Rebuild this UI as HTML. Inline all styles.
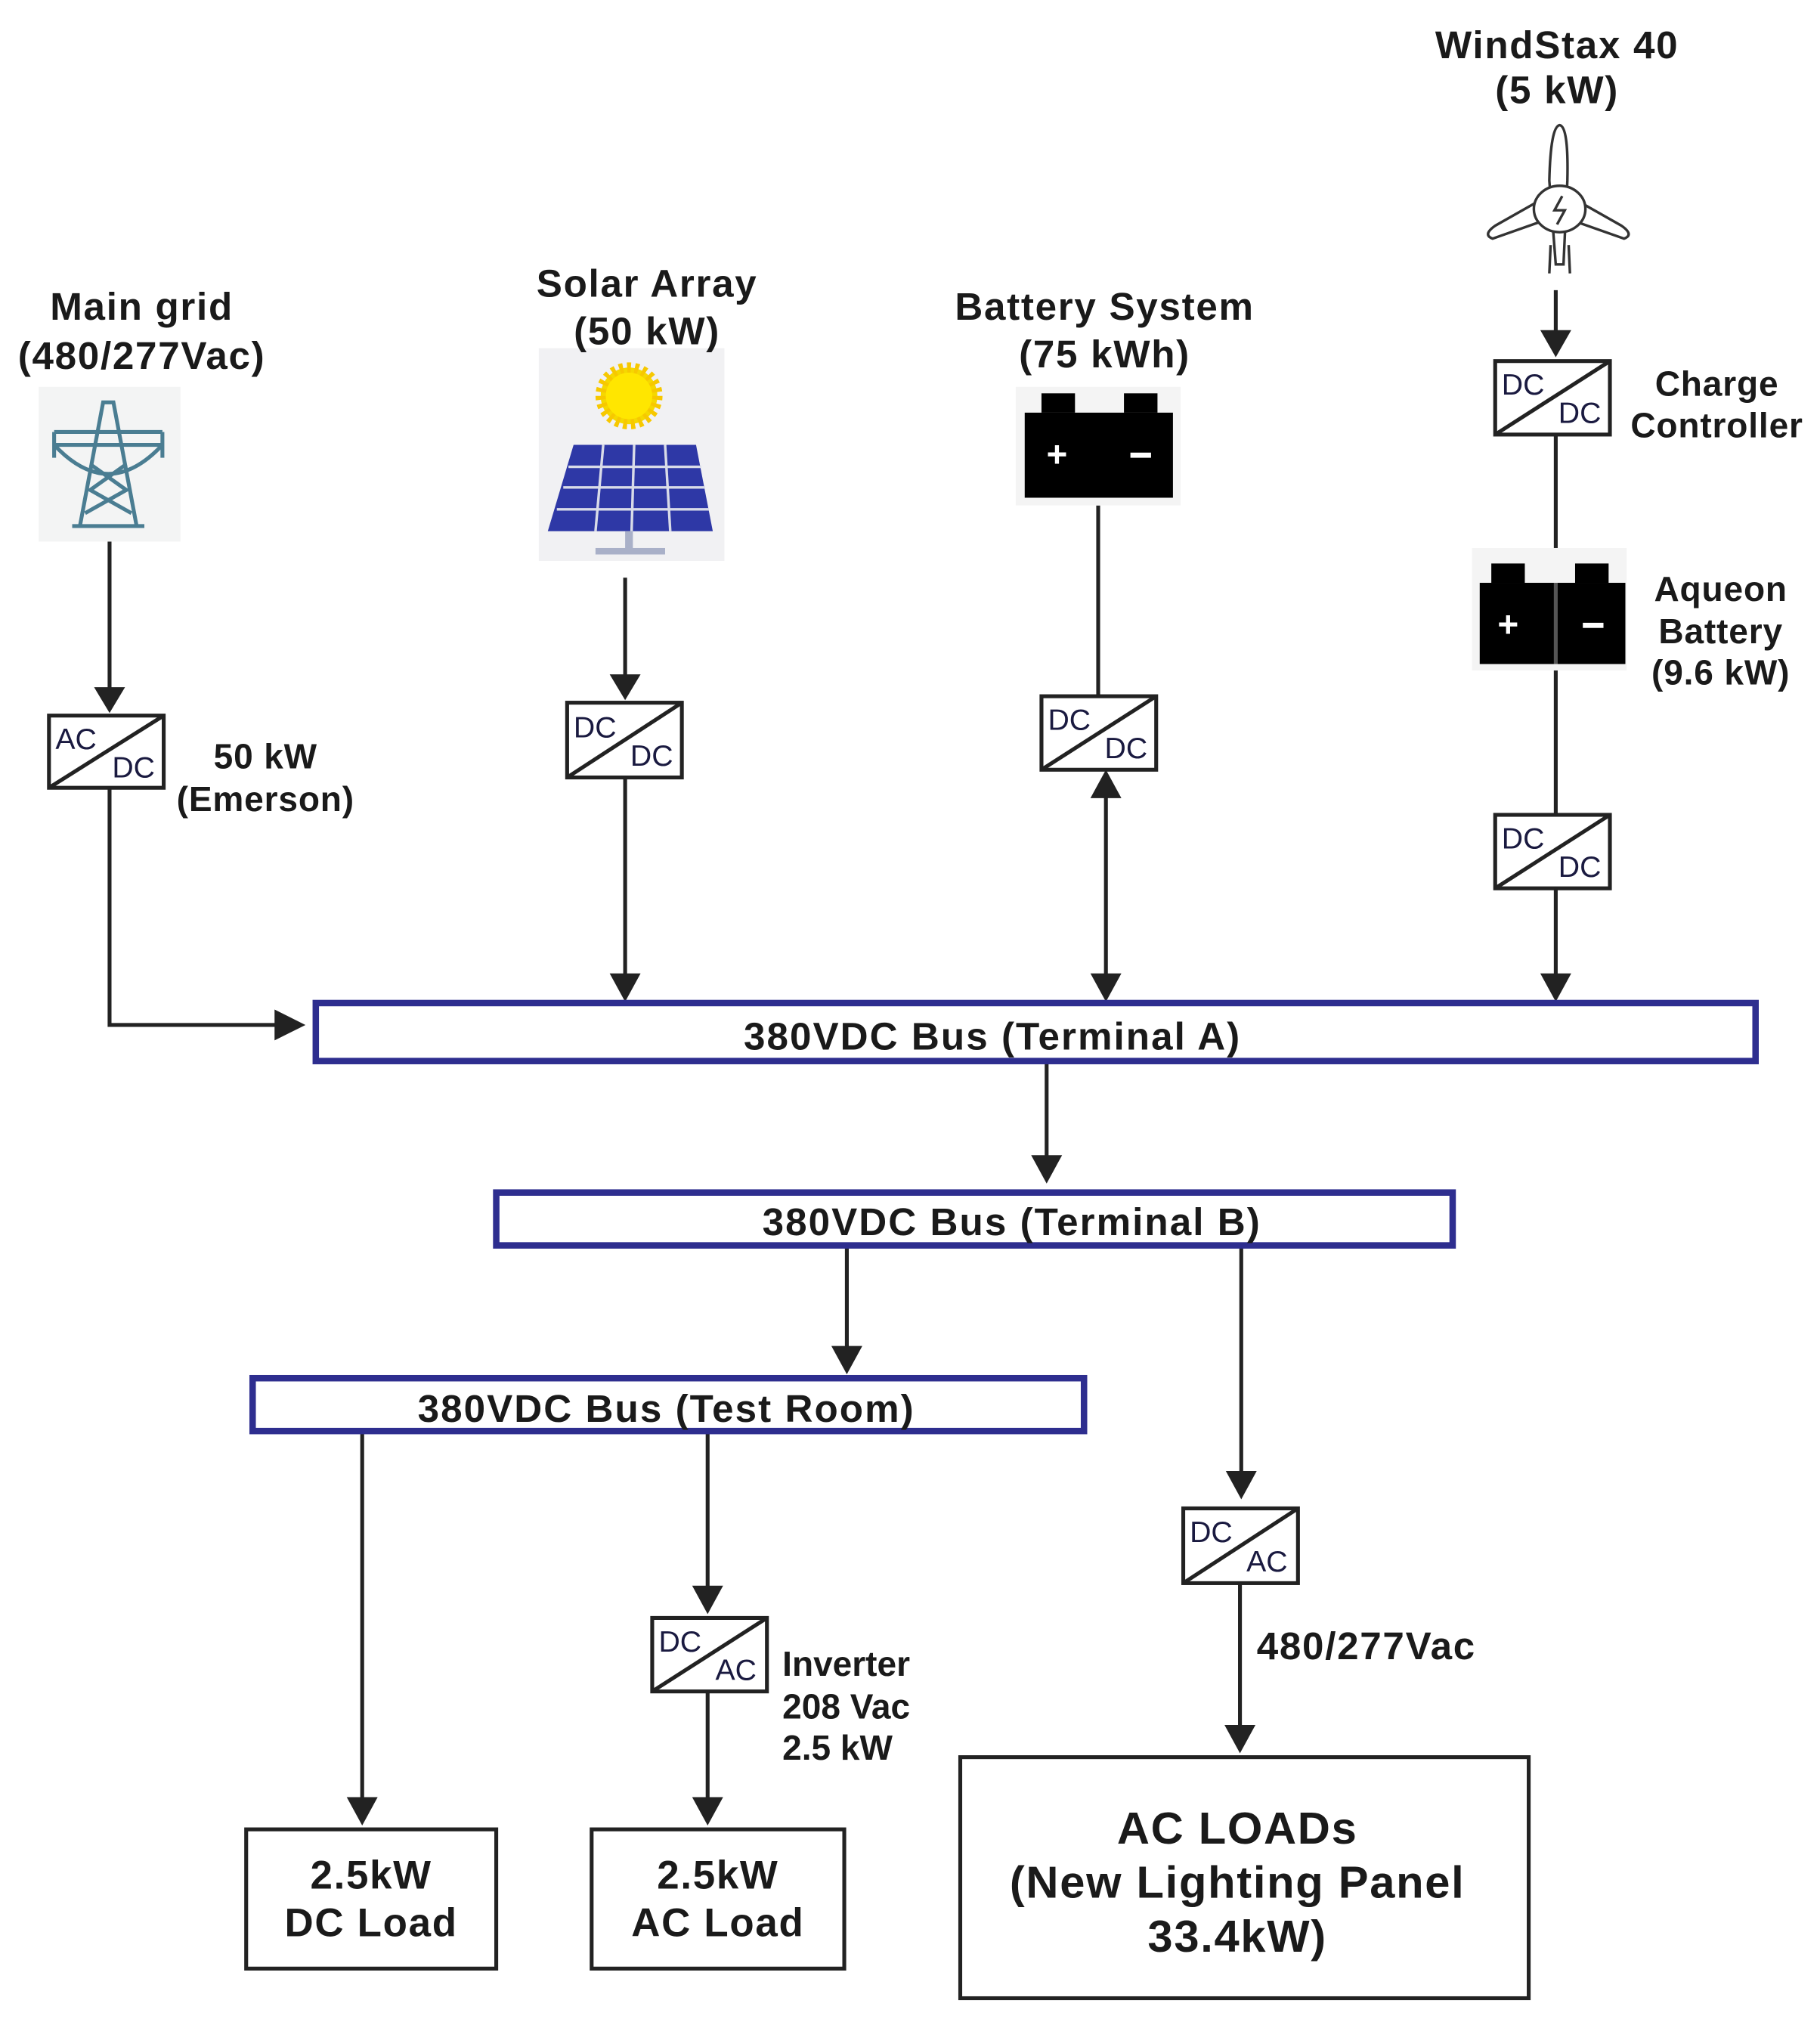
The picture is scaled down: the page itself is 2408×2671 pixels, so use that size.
<!DOCTYPE html>
<html><head><meta charset="utf-8"><style>
html,body{margin:0;padding:0;background:#fff}
svg{display:block}
text{font-family:"Liberation Sans",sans-serif;fill:#1a1a1a}
.b{font-weight:bold}
.c{font-size:23px;fill:#1a1a40}
</style></head><body>
<svg width="2408" height="2671" viewBox="0 0 1412 1566" xmlns="http://www.w3.org/2000/svg">
<g stroke="#222" stroke-width="3" fill="none">
<line x1="85" y1="420" x2="85" y2="535"/>
<polyline points="85,611 85,795 215,795"/>
<line x1="485" y1="448" x2="485" y2="525"/>
<line x1="485" y1="603" x2="485" y2="757"/>
<line x1="852" y1="392" x2="852" y2="540"/>
<line x1="858" y1="617" x2="858" y2="757"/>
<line x1="1207" y1="225" x2="1207" y2="258"/>
<line x1="1207" y1="337" x2="1207" y2="632"/>
<line x1="1207" y1="689" x2="1207" y2="757"/>
<line x1="812" y1="823" x2="812" y2="898"/>
<line x1="657" y1="966" x2="657" y2="1046"/>
<line x1="963" y1="966" x2="963" y2="1143"/>
<line x1="281" y1="1110" x2="281" y2="1396"/>
<line x1="549" y1="1110" x2="549" y2="1232"/>
<line x1="549" y1="1312" x2="549" y2="1396"/>
<line x1="962" y1="1228" x2="962" y2="1340"/>
</g>
<g fill="#222">
<polygon points="73,533 97,533 85,553"/>
<polygon points="213,783 213,807 237,795"/>
<polygon points="473,523 497,523 485,543"/>
<polygon points="473,755 497,755 485,777"/>
<polygon points="846,619 870,619 858,597"/>
<polygon points="846,755 870,755 858,777"/>
<polygon points="1195,256 1219,256 1207,277"/>
<polygon points="1195,755 1219,755 1207,777"/>
<polygon points="800,896 824,896 812,918"/>
<polygon points="645,1044 669,1044 657,1066"/>
<polygon points="951,1141 975,1141 963,1163"/>
<polygon points="269,1394 293,1394 281,1416"/>
<polygon points="537,1230 561,1230 549,1252"/>
<polygon points="537,1394 561,1394 549,1416"/>
<polygon points="950,1338 974,1338 962,1360"/>
</g>
<g stroke="#222" stroke-width="3" fill="#fff">
<rect x="38" y="555" width="89" height="56"/>
<rect x="440" y="545" width="89" height="58"/>
<rect x="808" y="540" width="89" height="57"/>
<rect x="1160" y="280" width="89" height="57"/>
<rect x="1160" y="632" width="89" height="57"/>
<rect x="506" y="1255" width="89" height="57"/>
<rect x="918" y="1170" width="89" height="58"/>
</g>
<g stroke="#222" stroke-width="3">
<line x1="38" y1="611" x2="127" y2="555"/>
<line x1="440" y1="603" x2="529" y2="545"/>
<line x1="808" y1="597" x2="897" y2="540"/>
<line x1="1160" y1="337" x2="1249" y2="280"/>
<line x1="1160" y1="689" x2="1249" y2="632"/>
<line x1="506" y1="1312" x2="595" y2="1255"/>
<line x1="918" y1="1228" x2="1007" y2="1170"/>
</g>
<g>
<text x="43" y="581" class="c">AC</text><text x="87" y="603" class="c">DC</text>
<text x="445" y="572" class="c">DC</text><text x="489" y="594" class="c">DC</text>
<text x="813" y="566" class="c">DC</text><text x="857" y="588" class="c">DC</text>
<text x="1165" y="306" class="c">DC</text><text x="1209" y="328" class="c">DC</text>
<text x="1165" y="658" class="c">DC</text><text x="1209" y="680" class="c">DC</text>
<text x="511" y="1281" class="c">DC</text><text x="555" y="1303" class="c">AC</text>
<text x="923" y="1196" class="c">DC</text><text x="967" y="1219" class="c">AC</text>
</g>
<rect x="30" y="300" width="110" height="120" fill="#f3f4f4"/>
<g stroke="#4a7d92" stroke-width="3" fill="none">
<polyline points="62,408 80,312 88,312 106,408"/>
<line x1="56" y1="408" x2="112" y2="408"/>
<polyline points="42,335 126,335"/><polyline points="42,345 126,345"/>
<line x1="42" y1="335" x2="42" y2="355"/><line x1="126" y1="335" x2="126" y2="355"/>
<path d="M42 345 Q84 390 126 345"/>
<polyline points="70,360 98,380 66,398"/><polyline points="98,360 70,380 102,398"/>
</g>
<rect x="418" y="270" width="144" height="165" fill="#f1f1f3"/>
<circle cx="488" cy="307" r="22" fill="#f5d800" stroke="#f7c800" stroke-width="8" stroke-dasharray="3 3"/>
<circle cx="488" cy="307" r="18" fill="#ffe600"/>
<polygon points="445,345 540,345 553,412 425,412" fill="#2e38a6"/>
<g stroke="#d8dbe8" stroke-width="2">
<line x1="468" y1="345" x2="462" y2="412"/><line x1="492" y1="345" x2="490" y2="412"/><line x1="516" y1="345" x2="520" y2="412"/>
<line x1="441" y1="362" x2="544" y2="362"/><line x1="437" y1="378" x2="547" y2="378"/><line x1="432" y1="395" x2="550" y2="395"/>
</g>
<rect x="485" y="412" width="6" height="14" fill="#a9b0c8"/><rect x="462" y="425" width="54" height="5" fill="#a9b0c8"/>
<rect x="788" y="300" width="128" height="92" fill="#f4f4f4"/>
<rect x="808" y="305" width="26" height="15" fill="#000"/><rect x="872" y="305" width="26" height="15" fill="#000"/>
<rect x="795" y="320" width="115" height="66" fill="#000"/>
<text x="820" y="362" text-anchor="middle" style="fill:#fff;font-size:28px;font-weight:bold">+</text>
<rect x="877" y="351" width="16" height="4" fill="#fff"/>
<rect x="1142" y="425" width="120" height="95" fill="#f4f4f4"/>
<rect x="1157" y="437" width="26" height="15" fill="#000"/><rect x="1222" y="437" width="26" height="15" fill="#000"/>
<rect x="1148" y="452" width="113" height="63" fill="#000"/>
<text x="1170" y="494" text-anchor="middle" style="fill:#fff;font-size:28px;font-weight:bold">+</text>
<rect x="1228" y="483" width="16" height="4" fill="#fff"/>
<line x1="1207" y1="452" x2="1207" y2="515" stroke="#555" stroke-width="3"/>
<g stroke="#333" stroke-width="2" fill="#fff">
<path d="M1207 205 L1202 140 Q1203 98 1210 97 Q1217 98 1216 140 L1213 205Z"/>
<path d="M1190 158 L1160 175 Q1150 182 1158 185 L1195 172Z"/>
<path d="M1228 158 L1258 175 Q1268 182 1260 185 L1223 172Z"/>
<ellipse cx="1210" cy="162" rx="20" ry="18"/>
<path d="M1212 152 L1206 163 L1214 163 L1208 174" fill="none"/>
<line x1="1203" y1="190" x2="1202" y2="212"/><line x1="1217" y1="190" x2="1218" y2="212"/>
</g>
<g fill="#fff" stroke="#2e2e8f" stroke-width="5">
<rect x="245" y="778" width="1117" height="45"/>
<rect x="385" y="925" width="742" height="41"/>
<rect x="196" y="1069" width="645" height="41"/>
</g>
<g text-anchor="middle" class="b" style="font-size:30px;letter-spacing:1.2px">
<text x="770" y="814">380VDC Bus (Terminal A)</text>
<text x="785" y="958">380VDC Bus (Terminal B)</text>
<text x="517" y="1103">380VDC Bus (Test Room)</text>
</g>
<g text-anchor="middle" class="b" style="font-size:30px;letter-spacing:1px">
<text x="110" y="248">Main grid</text>
<text x="110" y="286">(480/277Vac)</text>
<text x="502" y="230">Solar Array</text>
<text x="502" y="267">(50 kW)</text>
<text x="857" y="248">Battery System</text>
<text x="857" y="285">(75 kWh)</text>
<text x="1208" y="45">WindStax 40</text>
<text x="1208" y="80">(5 kW)</text>
</g>
<g text-anchor="middle" class="b" style="font-size:27px;letter-spacing:0.5px">
<text x="1332" y="307">Charge</text>
<text x="1332" y="339">Controller</text>
<text x="1335" y="466">Aqueon</text>
<text x="1335" y="499">Battery</text>
<text x="1335" y="531">(9.6 kW)</text>
<text x="206" y="596">50 kW</text>
<text x="206" y="629">(Emerson)</text>
</g>
<g fill="#fff" stroke="#222" stroke-width="3">
<rect x="191" y="1419" width="194" height="108"/>
<rect x="459" y="1419" width="196" height="108"/>
<rect x="745" y="1363" width="441" height="187"/>
</g>
<g text-anchor="middle" class="b" style="font-size:31px;letter-spacing:1px">
<text x="288" y="1465">2.5kW</text>
<text x="288" y="1502">DC Load</text>
<text x="557" y="1465">2.5kW</text>
<text x="557" y="1502">AC Load</text>
</g>
<g text-anchor="middle" class="b" style="font-size:35px;letter-spacing:1px">
<text x="960" y="1430">AC LOADs</text>
<text x="960" y="1472">(New Lighting Panel</text>
<text x="960" y="1514">33.4kW)</text>
</g>
<g class="b" style="font-size:27px">
<text x="607" y="1300">Inverter</text>
<text x="607" y="1333">208 Vac</text>
<text x="607" y="1365">2.5 kW</text>
</g>
<text x="975" y="1287" class="b" style="font-size:30px;letter-spacing:1px">480/277Vac</text>
</svg>
</body></html>
